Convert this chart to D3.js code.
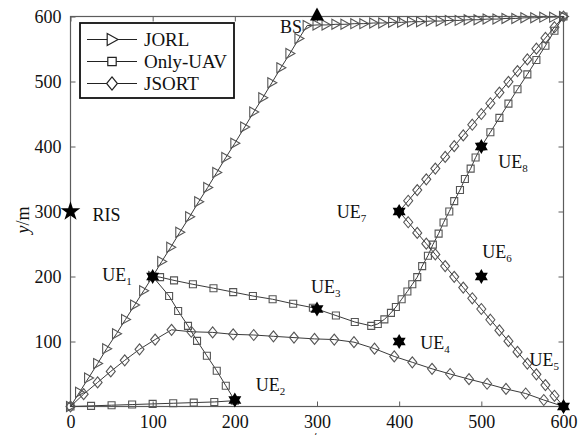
<!DOCTYPE html>
<html>
<head>
<meta charset="utf-8">
<script src="https://cdn.jsdelivr.net/npm/d3@7/dist/d3.min.js"></script>
<style>
  html, body { margin: 0; padding: 0; background: #fff; }
  svg { display: block; font-family: "Liberation Serif", "Times New Roman", serif; }
</style>
</head>
<body>
<svg id="chart" width="584" height="435"></svg>
<script>
// Axis ticks (metres)
const xTickValues = [0, 100, 200, 300, 400, 500, 600];
const yTickValues = [100, 200, 300, 400, 500, 600];

// JORL trajectory samples
const jorlX = [0, 11, 22, 33, 44, 56, 67, 78, 89, 100, 111, 122, 133, 145, 156, 167, 178, 189, 200, 212, 223, 234, 245, 256, 267, 278, 288,
  300, 311, 323, 334, 346, 357, 369, 380, 392, 403, 415, 426, 438, 450, 461, 473, 484, 496, 507, 519, 530, 542, 553, 565, 576, 588, 600];
const jorlY = [0, 22, 44, 66, 89, 112, 134, 156, 178, 200, 223, 245, 268, 292, 315, 337, 360, 383, 405, 430, 453, 475, 498, 521, 543, 566, 586,
  587, 587, 588, 588, 589, 589, 590, 590, 591, 591, 592, 592, 593, 593, 594, 594, 595, 595, 596, 596, 597, 597, 598, 598, 599, 599, 600];

// Only-UAV trajectory samples
const onlyUavX = [0, 25, 50, 75, 100, 125, 150, 175, 200,
  189, 178, 166, 154, 143, 131, 120, 100,
  109, 126, 149, 174, 198, 222, 246, 271, 295, 323, 346, 366,
  374, 382, 390, 396, 403, 410, 416, 422, 428, 435, 441, 448, 454, 461, 467, 474, 480, 487, 493, 500,
  511, 522, 533, 544, 556, 567, 578, 589, 600];
const onlyUavY = [0, 1, 2, 3, 4, 5, 6, 7, 9,
  32, 55, 78, 101, 124, 147, 170, 200,
  199, 194, 188, 182, 176, 170, 165, 158, 152, 140, 130, 124,
  127, 134, 144, 153, 165, 177, 188, 199, 216, 232, 249, 266, 283, 300, 316, 333, 350, 366, 383, 400,
  422, 444, 466, 488, 511, 533, 555, 578, 600];

// JSORT trajectory samples
const jsortX = [0, 16, 33, 49, 66, 84, 103, 123, 147, 173, 198, 223, 247, 272, 297, 321, 345, 370, 394, 416, 440, 462, 485, 507, 530, 554, 576, 600,
  589, 578, 567, 556, 544, 533, 522, 511, 500, 489, 478, 467, 456, 444, 433, 422, 411, 400,
  411, 422, 433, 444, 456, 467, 478, 489, 500, 511, 522, 533, 544, 556, 567, 578, 589, 600];
const jsortY = [0, 19, 37, 54, 71, 88, 103, 118, 115, 114, 111, 110, 108, 106, 104, 103, 99, 89, 77, 68, 58, 50, 42, 35, 27, 20, 10, 0,
  16.5, 33, 49.5, 66, 84, 100.5, 117, 133.5, 150, 166.5, 183, 199.5, 216, 234, 250.5, 267, 283.5, 300,
  316.5, 333, 349.5, 366, 384, 400.5, 417, 433.5, 450, 466.5, 483, 499.5, 516, 534, 550.5, 567, 583.5, 600];

// Users, RIS and base station
const ueNames = ["1", "2", "3", "4", "5", "6", "7", "8"];
const ueX = [100, 200, 300, 400, 600, 500, 400, 500];
const ueY = [200, 10, 150, 100, 0, 200, 300, 400];
const risPos = [0, 300];
const bsPos = [300, 600];

const seriesNames = ["JORL", "Only-UAV", "JSORT"];

const svg = d3.select("#chart");
const x = d3.scaleLinear().domain([0, 600]).range([70.5, 563.5]);
const y = d3.scaleLinear().domain([0, 600]).range([406.5, 16.5]);

const serif = "Liberation Serif, Times New Roman, serif";
const axisColor = "#5c5c5c";
const lineColor = "#3a3a3a";
const markColor = "#555";

// frame with inward ticks on all four sides
svg.append("rect")
  .attr("x", x(0)).attr("y", y(600))
  .attr("width", x(600) - x(0)).attr("height", y(0) - y(600))
  .attr("fill", "none").attr("stroke", axisColor).attr("stroke-width", 1.2);

const axB = d3.axisBottom(x).tickValues(xTickValues).tickSizeInner(-5).tickSizeOuter(0).tickPadding(9);
const axL = d3.axisLeft(y).tickValues(yTickValues).tickSizeInner(-5).tickSizeOuter(0).tickPadding(9);
const axT = d3.axisTop(x).tickValues(xTickValues).tickSizeInner(-5).tickSizeOuter(0).tickFormat("");
const axR = d3.axisRight(y).tickValues(yTickValues).tickSizeInner(-5).tickSizeOuter(0).tickFormat("");

function styleAxis(g) {
  g.attr("font-family", serif).attr("font-size", 18);
  g.select(".domain").remove();
  g.selectAll(".tick line").attr("stroke", axisColor).attr("stroke-width", 1);
  g.selectAll(".tick text").attr("fill", "#111");
}
svg.append("g").attr("transform", `translate(0,${y(0)})`).call(axB).call(styleAxis);
svg.append("g").attr("transform", `translate(${x(0)},0)`).call(axL).call(styleAxis);
svg.append("g").attr("transform", `translate(0,${y(600)})`).call(axT).call(styleAxis);
svg.append("g").attr("transform", `translate(${x(600)},0)`).call(axR).call(styleAxis);

// axis titles (the x title sits at the lower edge)
const xt = svg.append("text").attr("x", 317).attr("y", 446).attr("text-anchor", "middle")
  .attr("font-size", 18).attr("fill", "#111");
xt.append("tspan").attr("font-style", "italic").text("x");
xt.append("tspan").text("/m");
const yt = svg.append("text").attr("transform", "translate(29,220) rotate(-90)")
  .attr("text-anchor", "middle").attr("font-size", 18).attr("fill", "#111");
yt.append("tspan").attr("font-style", "italic").text("y");
yt.append("tspan").text("/m");

// marker shapes
const markerPath = {
  tri: "M-4,-5L5,0L-4,5Z",
  sq: "M-3.5,-3.5H3.5V3.5H-3.5Z",
  dia: "M0,-5.5L4.5,0L0,5.5L-4.5,0Z"
};
const seriesDefs = [
  { xs: jorlX, ys: jorlY, shape: "tri" },
  { xs: onlyUavX, ys: onlyUavY, shape: "sq" },
  { xs: jsortX, ys: jsortY, shape: "dia" }
];

const line = d3.line().x(d => x(d[0])).y(d => y(d[1]));
const plot = svg.append("g");
seriesDefs.forEach(s => {
  const pts = s.xs.map((v, i) => [v, s.ys[i]]);
  plot.append("path").datum(pts).attr("d", line)
    .attr("fill", "none").attr("stroke", lineColor).attr("stroke-width", 1);
  plot.append("g").selectAll("path").data(pts).join("path")
    .attr("d", markerPath[s.shape])
    .attr("transform", d => `translate(${x(d[0])},${y(d[1])})`)
    .attr("fill", "none").attr("stroke", markColor).attr("stroke-width", 1.1);
});

// six-pointed star for users
function hexagram(r) {
  const pts = [];
  for (let k = 0; k < 12; k++) {
    const a = -Math.PI / 2 + k * Math.PI / 6;
    const rr = k % 2 === 0 ? r : r / Math.sqrt(3);
    pts.push([rr * Math.cos(a), rr * Math.sin(a)]);
  }
  return "M" + pts.map(p => p.join(",")).join("L") + "Z";
}

const marks = svg.append("g");
marks.selectAll("path.ue").data(ueNames).join("path")
  .attr("class", "ue")
  .attr("d", hexagram(7.5))
  .attr("transform", (d, i) => `translate(${x(ueX[i])},${y(ueY[i])})`)
  .attr("fill", "#000");
marks.append("path")
  .attr("d", d3.symbol(d3.symbolStar, 120)())
  .attr("transform", `translate(${x(risPos[0])},${y(risPos[1])})`)
  .attr("fill", "#000");
marks.append("path")
  .attr("d", "M0,-8L7,5H-7Z")
  .attr("transform", `translate(${x(bsPos[0])},${y(bsPos[1]) - 1})`)
  .attr("fill", "#000");

// user labels (offsets in pixels from each star)
const labelOffset = {
  "1": [-21, 4, "end"], "2": [21, -9, "start"], "3": [-6, -16, "start"], "4": [21, 7, "start"],
  "5": [-34, -41, "start"], "6": [1, -19, "start"], "7": [-33, 6, "end"], "8": [17, 21, "start"]
};
ueNames.forEach((n, i) => {
  const o = labelOffset[n];
  const t = svg.append("text")
    .attr("x", x(ueX[i]) + o[0]).attr("y", y(ueY[i]) + o[1])
    .attr("text-anchor", o[2]).attr("font-size", 18).attr("fill", "#111");
  t.append("tspan").text("UE");
  t.append("tspan").attr("font-size", 11).attr("dy", 4).text(n);
});
svg.append("text").attr("x", x(risPos[0]) + 22).attr("y", y(risPos[1]) + 9)
  .attr("font-size", 18).attr("fill", "#111").text("RIS");
svg.append("text").attr("x", x(bsPos[0]) - 15).attr("y", y(bsPos[1]) + 16)
  .attr("text-anchor", "end").attr("font-size", 18).attr("fill", "#111").text("BS");

// legend
const lg = svg.append("g");
lg.append("rect").attr("x", 80).attr("y", 23).attr("width", 154).attr("height", 75)
  .attr("fill", "#fff").attr("stroke", "#111").attr("stroke-width", 1.8);
seriesNames.forEach((name, i) => {
  const cy = 39.5 + i * 22;
  lg.append("line").attr("x1", 87).attr("x2", 137).attr("y1", cy).attr("y2", cy)
    .attr("stroke", "#222").attr("stroke-width", 1.2);
  lg.append("path").attr("d", markerPath[seriesDefs[i].shape])
    .attr("transform", `translate(112,${cy}) scale(1.2)`)
    .attr("fill", "#fff").attr("stroke", "#222").attr("stroke-width", 1);
  lg.append("text").attr("x", 144).attr("y", cy + 6).attr("font-size", 19)
    .attr("fill", "#111").text(name);
});
</script>
</body>
</html>
